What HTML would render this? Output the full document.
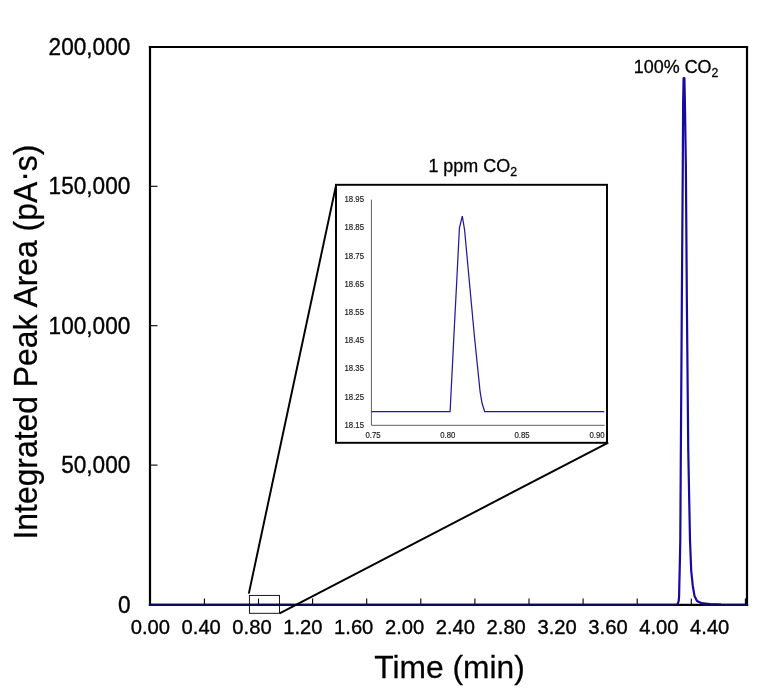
<!DOCTYPE html>
<html>
<head>
<meta charset="utf-8">
<title>Integrated Peak Area vs Time</title>
<style>
html,body{margin:0;padding:0;background:#fff;}
body{width:772px;height:689px;overflow:hidden;}
svg{display:block;will-change:transform;opacity:0.999;}
text{font-family:"Liberation Sans",Arial,Helvetica,sans-serif;fill:#000;stroke:#000;stroke-width:0.35px;}
.yl{font-size:22.6px;text-anchor:end;}
.xl{font-size:20.2px;text-anchor:middle;}
.il{font-size:7.8px;fill:#1a1a1a;stroke:#1a1a1a;stroke-width:0.15px;}
.ile{text-anchor:end;}
.ilm{text-anchor:middle;}
.ann{font-size:17.95px;stroke-width:0.3px;}
.sub{font-size:12.3px;}
.ttl{font-size:31.8px;text-anchor:middle;stroke-width:0.25px;}
.ttly{font-size:31.85px;text-anchor:middle;stroke-width:0.25px;}
</style>
</head>
<body>
<svg width="772" height="689" viewBox="0 0 772 689">
<rect x="0" y="0" width="772" height="689" fill="#ffffff"/>

<!-- main frame -->
<g stroke="#000" stroke-width="2.2" fill="none" stroke-linecap="square">
<line x1="150" y1="47" x2="150" y2="604.8"/>
<line x1="150" y1="47" x2="747" y2="47"/>
<line x1="747" y1="47" x2="747" y2="604.8"/>
</g>
<!-- y ticks -->
<g stroke="#000" stroke-width="1.1">
<line x1="150" y1="186.3" x2="157.5" y2="186.3"/>
<line x1="150" y1="325.7" x2="157.5" y2="325.7"/>
<line x1="150" y1="465.1" x2="157.5" y2="465.1"/>
</g>
<!-- x ticks -->
<g stroke="#000" stroke-width="1.1">
<line x1="204.4" y1="598.6" x2="204.4" y2="604.8"/>
<line x1="258.5" y1="598.6" x2="258.5" y2="604.8"/>
<line x1="312.6" y1="598.6" x2="312.6" y2="604.8"/>
<line x1="366.7" y1="598.6" x2="366.7" y2="604.8"/>
<line x1="420.8" y1="598.6" x2="420.8" y2="604.8"/>
<line x1="474.9" y1="598.6" x2="474.9" y2="604.8"/>
<line x1="529.0" y1="598.6" x2="529.0" y2="604.8"/>
<line x1="583.1" y1="598.6" x2="583.1" y2="604.8"/>
<line x1="637.2" y1="598.6" x2="637.2" y2="604.8"/>
<line x1="691.3" y1="598.6" x2="691.3" y2="604.8"/>
<line x1="745.4" y1="598.6" x2="745.4" y2="604.8"/>
</g>
<line x1="148.9" y1="604.8" x2="748.1" y2="604.8" stroke="#000" stroke-width="2.2"/>
<path d="M677.3,604.6 L678,603 L678.7,601 L679.1,595.9 L679.3,585.7 L679.7,570 L680.3,540 L680.85,450 L681.85,300 L682.8,165 L683.15,102 L683.6,78.2 L684.4,78.2 L684.9,102 L685.85,165 L686.85,300 L688.25,450 L690,540 L691.2,570.5 L692.75,585.7 L694.5,595.9 L697,601 L701.6,603.2 L710,604 L721,604.5" fill="none" stroke="#170aa2" stroke-width="2.2" stroke-linejoin="round"/>
<line x1="148.9" y1="604.8" x2="678" y2="604.8" stroke="#0c0a5a" stroke-width="2.2"/>
<line x1="703" y1="604.8" x2="748.1" y2="604.8" stroke="#0c0a5a" stroke-width="2.2"/>
<!-- callout lines -->
<g stroke="#000" stroke-width="1.95" fill="none">
<line x1="248.8" y1="593.6" x2="336.2" y2="184.6"/>
<line x1="279.6" y1="613.4" x2="608.3" y2="442.6"/>
</g>
<rect x="249.4" y="595.4" width="30.1" height="17.9" fill="none" stroke="#000" stroke-width="0.9"/>
<!-- inset -->
<rect x="336" y="184.8" width="271" height="258" fill="#fff" stroke="#000" stroke-width="1.95"/>
<g stroke="#606060" stroke-width="1" fill="none">
<line x1="371.4" y1="199.7" x2="371.4" y2="425.3"/>
<line x1="371.4" y1="425.3" x2="604.7" y2="425.3"/>
</g>
<polyline points="371.5,411.6 450.1,411.6 454.1,332 456.8,280 459.4,228 462.3,216.2 464.6,230 469.2,280 474.3,335 480.1,391.7 482,403 484.7,411.6 604.3,411.6" fill="none" stroke="#221a9c" stroke-width="1.25" stroke-linejoin="miter"/>
<text class="il ile" transform="translate(364,202.0) scale(1,1.045)">18.95</text>
<text class="il ile" transform="translate(364,230.2) scale(1,1.045)">18.85</text>
<text class="il ile" transform="translate(364,258.5) scale(1,1.045)">18.75</text>
<text class="il ile" transform="translate(364,286.7) scale(1,1.045)">18.65</text>
<text class="il ile" transform="translate(364,315.0) scale(1,1.045)">18.55</text>
<text class="il ile" transform="translate(364,343.2) scale(1,1.045)">18.45</text>
<text class="il ile" transform="translate(364,371.4) scale(1,1.045)">18.35</text>
<text class="il ile" transform="translate(364,399.7) scale(1,1.045)">18.25</text>
<text class="il ile" transform="translate(364,427.9) scale(1,1.045)">18.15</text>
<text class="il ilm" transform="translate(373,437.6) scale(1,1.045)">0.75</text>
<text class="il ilm" transform="translate(447.8,437.6) scale(1,1.045)">0.80</text>
<text class="il ilm" transform="translate(522,437.6) scale(1,1.045)">0.85</text>
<text class="il ilm" transform="translate(597.1,437.6) scale(1,1.045)">0.90</text>
<text class="ann" transform="translate(428.4,171.6) scale(1,1.045)">1 ppm CO<tspan class="sub" dy="4">2</tspan></text>
<text class="ann" transform="translate(633.8,73.2) scale(1,1.045)">100% CO<tspan class="sub" dy="4">2</tspan></text>
<text class="yl" transform="translate(130.3,55.2) scale(1,1.03)">200,000</text>
<text class="yl" transform="translate(130.3,194.3) scale(1,1.03)">150,000</text>
<text class="yl" transform="translate(130.3,333.7) scale(1,1.03)">100,000</text>
<text class="yl" transform="translate(130.3,473.1) scale(1,1.03)">50,000</text>
<text class="yl" transform="translate(130.6,612.8) scale(1,1.03)">0</text>
<text class="xl" transform="translate(150.3,634.3) scale(1,1.045)">0.00</text>
<text class="xl" transform="translate(201.2,634.3) scale(1,1.045)">0.40</text>
<text class="xl" transform="translate(252.0,634.3) scale(1,1.045)">0.80</text>
<text class="xl" transform="translate(302.9,634.3) scale(1,1.045)">1.20</text>
<text class="xl" transform="translate(353.7,634.3) scale(1,1.045)">1.60</text>
<text class="xl" transform="translate(404.6,634.3) scale(1,1.045)">2.00</text>
<text class="xl" transform="translate(455.4,634.3) scale(1,1.045)">2.40</text>
<text class="xl" transform="translate(506.2,634.3) scale(1,1.045)">2.80</text>
<text class="xl" transform="translate(557.1,634.3) scale(1,1.045)">3.20</text>
<text class="xl" transform="translate(608.0,634.3) scale(1,1.045)">3.60</text>
<text class="xl" transform="translate(658.8,634.3) scale(1,1.045)">4.00</text>
<text class="xl" transform="translate(709.7,634.3) scale(1,1.045)">4.40</text>
<text class="ttl" transform="translate(449.55,677.9) scale(1,1.015)">Time (min)</text>
<text class="ttly" transform="translate(36.8,342.1) rotate(-90) scale(1,1.03)">Integrated Peak Area (pA<tspan dy="-2.5">·</tspan><tspan dy="2.5">s)</tspan></text>
</svg>
</body>
</html>
